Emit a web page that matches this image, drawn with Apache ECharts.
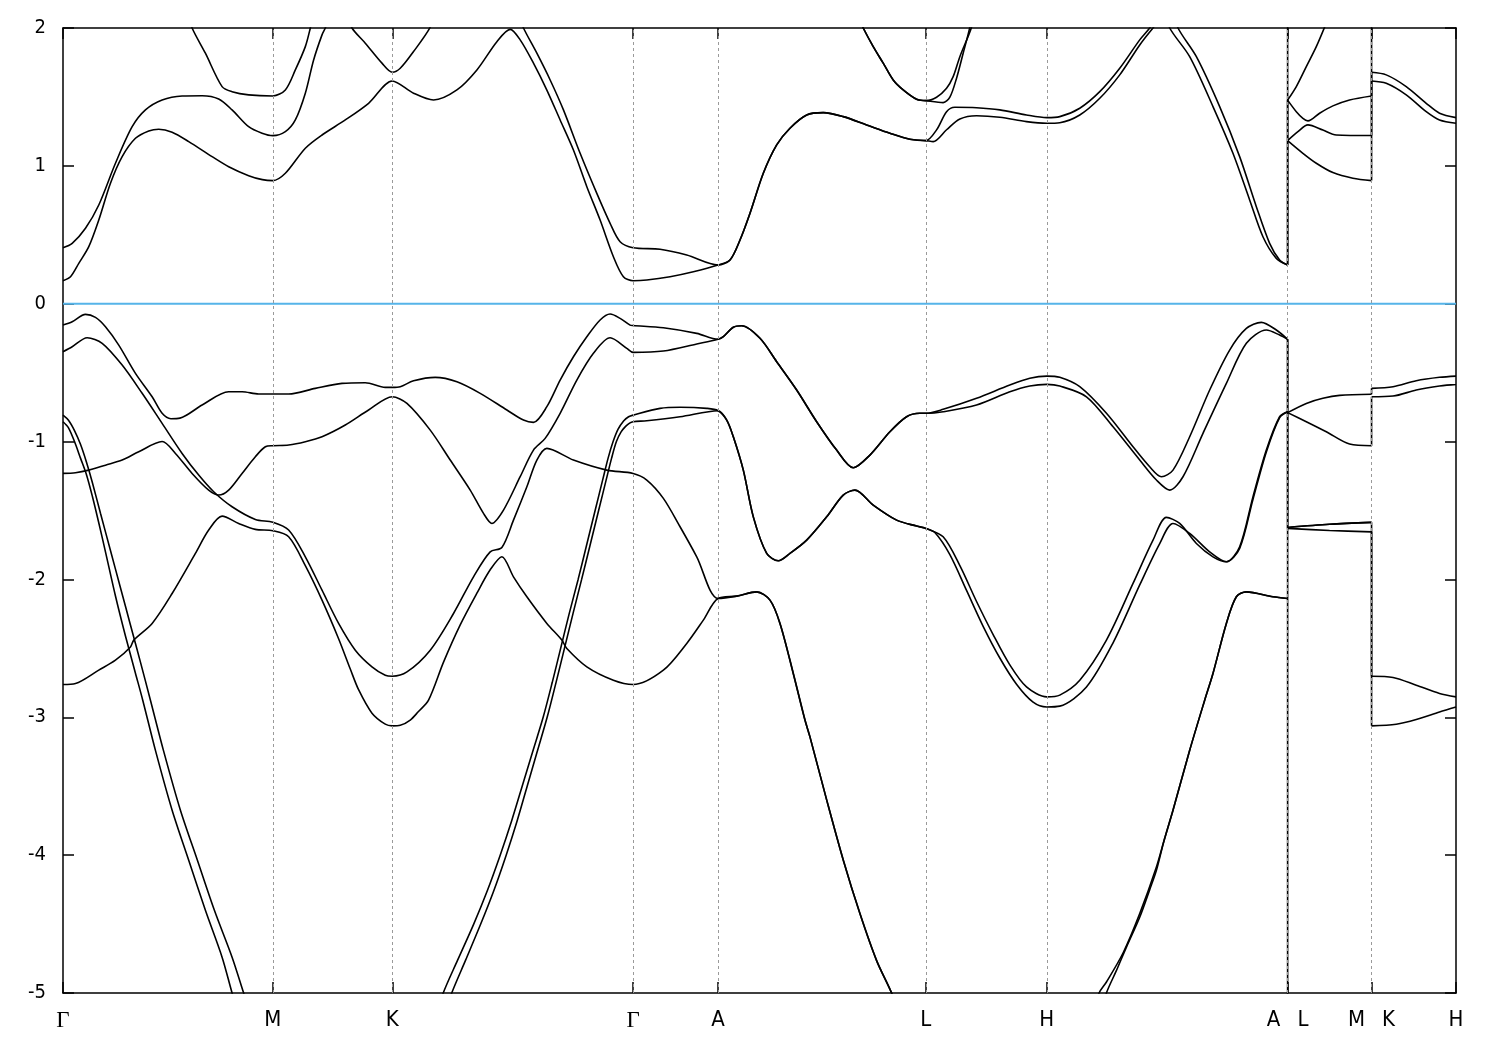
<!DOCTYPE html>
<html><head><meta charset="utf-8">
<script src="https://cdn.jsdelivr.net/npm/echarts@6/dist/echarts.min.js"></script>
<style>html,body{margin:0;padding:0;background:#fff}#c{width:1500px;height:1050px}</style>
</head><body><div id="c"></div>
<script>
// ---- high-symmetry path ----
const kTicks = [0, 210, 329.5, 570.5, 655.5, 863.5, 984.5, 1225.5, 1309.5, 1394];
const tickNames = ['Γ', 'M', 'K', 'Γ', 'A', 'L', 'H', 'A|L', 'M|K', 'H'];
const fermiLine = [[0, 0], [1394, 0]];

// ---- conduction bands (k, E in eV) ----
const cond_GMKG_a = [[0,0.167],[7.5,0.196],[15.8,0.293],[25.8,0.414],[35.8,0.607],[47.5,0.874],[59.2,1.067],[72.5,1.2],[85.8,1.253],[95.8,1.266],[109.2,1.244],[125.8,1.176],[149.2,1.067],[165.8,0.994],[185.8,0.929],[199.5,0.9],[210,0.893],[222.5,0.946],[242.5,1.128],[259.2,1.224],[282.5,1.333],[305.8,1.454],[329.5,1.616],[350.8,1.527],[370.8,1.478],[394.2,1.551],[414.2,1.696],[434.2,1.901],[447.5,1.99],[457.5,1.914],[470.8,1.745],[484.2,1.55],[497.5,1.333],[510.8,1.115],[524.2,0.849],[537.5,0.607],[550.8,0.341],[560.8,0.196],[570.5,0.167]];
const cond_GM_b = [[0,0.406],[9.2,0.438],[22.5,0.547],[35.8,0.716],[52.5,1.019],[69.2,1.284],[82.5,1.406],[99.2,1.478],[119.2,1.507],[139.2,1.509],[155.8,1.485],[169.2,1.406],[185.8,1.284],[199.2,1.237],[210,1.219],[222.5,1.248],[232.5,1.333],[242.5,1.527],[250.8,1.768],[259.2,1.95],[262.5,2.0],[267.5,2.1]];
const cond_M_top = [[125.5,2.1],[129.2,2.0],[142.5,1.817],[159.2,1.575],[169.2,1.538],[185.8,1.515],[210,1.507],[222.5,1.551],[232.5,1.696],[242.5,1.865],[247.5,2.0],[250.5,2.1]];
const cond_K_top = [[284.5,2.1],[289.2,2.0],[302.5,1.89],[319.2,1.745],[329.5,1.679],[337.5,1.708],[350.8,1.829],[367.5,2.006],[370.5,2.1]];
const cond_KG_b = [[455.5,2.1],[460.8,2.0],[474.2,1.817],[487.5,1.623],[500.8,1.406],[517.5,1.091],[534.2,0.8],[547.5,0.583],[557.5,0.45],[570.5,0.406]];
const cond_GA_a = [[570.5,0.167],[584.2,0.172],[607.5,0.196],[630.8,0.232],[655.5,0.281]];
const cond_GA_b = [[570.5,0.406],[597.5,0.395],[624.2,0.353],[655.5,0.281]];
const cond_AL = [[655.5,0.281],[667.5,0.317],[677.5,0.462],[687.5,0.656],[700.8,0.946],[714.2,1.152],[727.5,1.273],[744.2,1.369],[760.8,1.386],[780.8,1.357],[804.2,1.297],[827.5,1.237],[847.5,1.193],[863.5,1.183]];
const cond_LH_a = [[863.5,1.183],[870.8,1.176],[884.2,1.262],[897.5,1.34],[914.2,1.364],[937.5,1.353],[964.2,1.321],[984.5,1.309]];
const cond_LH_b = [[863.5,1.183],[874.2,1.261],[884.2,1.393],[892.5,1.425],[914.2,1.422],[937.5,1.406],[964.2,1.369],[984.5,1.35]];
const cond_HA_a = [[984.5,1.309],[997.5,1.313],[1017.5,1.369],[1037.5,1.49],[1057.5,1.66],[1077.5,1.877],[1090.8,2.0],[1103,2.1]];
const cond_HA_b = [[984.5,1.35],[997.5,1.357],[1017.5,1.418],[1037.5,1.538],[1057.5,1.708],[1077.5,1.914],[1087.5,2.0],[1097,2.1]];
const cond_HA_down_1 = [[1105,2.1],[1107.5,2.0],[1127.5,1.792],[1150.8,1.43],[1170.8,1.091],[1187.5,0.753],[1200.8,0.486],[1214.2,0.329],[1225.5,0.281]];
const cond_HA_down_2 = [[1113,2.1],[1115.8,2.0],[1134.2,1.792],[1157.5,1.43],[1177.5,1.067],[1194.2,0.704],[1207.5,0.438],[1217.5,0.317],[1225.5,0.281]];
const cond_AL_top = [[794.5,2.1],[800.8,2.0],[810.8,1.865],[820.8,1.745],[830.8,1.623],[840.8,1.551],[854.2,1.483],[863.5,1.473]];
const cond_LH_top_a = [[863.5,1.473],[874.2,1.498],[884.2,1.563],[890.8,1.647],[897.5,1.792],[909.2,2.006],[911,2.1]];
const cond_LH_top_b = [[863.5,1.473],[880.8,1.459],[887.5,1.498],[894.2,1.636],[900.8,1.817],[907.5,2.006],[909,2.1]];
const cond_A_above = [[1225.5,2.3]];
const cond_LM_down = [[1225.5,1.183],[1240.8,1.091],[1254.2,1.019],[1270.8,0.951],[1290.8,0.91],[1309.5,0.893]];
const cond_LM_cross_dn = [[1225.5,1.477],[1234.2,1.393],[1240.8,1.345],[1245.8,1.326],[1257.5,1.382],[1270.8,1.435],[1287.5,1.478],[1309.5,1.507]];
const cond_LM_cross_up = [[1225.5,1.183],[1235.8,1.248],[1245.8,1.297],[1260.8,1.26],[1274.2,1.224],[1309.5,1.22]];
const cond_LM_up = [[1225.5,1.477],[1234.2,1.575],[1244.2,1.72],[1254.2,1.865],[1262.5,2.006],[1267.5,2.1]];
const cond_KH_a = [[1309.5,1.616],[1324.2,1.599],[1344.2,1.515],[1364.2,1.393],[1377.5,1.333],[1394,1.309]];
const cond_KH_b = [[1309.5,1.679],[1324.2,1.66],[1344.2,1.575],[1364.2,1.454],[1377.5,1.382],[1394,1.35]];
const cond_KH_above = [[1309.5,2.3],[1394,2.3]];

// ---- valence bands ----
const val_v1 = [[0,-0.155],[9.2,-0.131],[22.5,-0.077],[32.5,-0.099],[42.5,-0.167],[55.8,-0.3],[72.5,-0.505],[89.2,-0.675],[99.2,-0.795],[108,-0.834],[117,-0.83],[139.2,-0.735],[165.8,-0.639],[179.2,-0.639],[195.8,-0.655],[210,-0.655],[225.8,-0.655],[252.5,-0.614],[279.2,-0.578],[302.5,-0.573],[322.5,-0.607],[329.5,-0.607],[337.5,-0.602],[350.8,-0.559],[372.5,-0.534],[394.2,-0.566],[417.5,-0.65],[444.2,-0.771],[460.8,-0.844],[470.8,-0.861],[484.2,-0.747],[497.5,-0.554],[510.8,-0.385],[524.2,-0.24],[537.5,-0.118],[547.5,-0.075],[557.5,-0.106],[567.5,-0.155],[570.5,-0.158]];
const val_v1_GA = [[570.5,-0.158],[600.8,-0.174],[634.2,-0.215],[655.5,-0.258]];
const val_v3 = [[0,-1.231],[12.5,-1.226],[25.8,-1.207],[42.5,-1.171],[59.2,-1.134],[75.8,-1.074],[99.2,-1.0],[112.5,-1.086],[129.2,-1.231],[145.8,-1.352],[155.8,-1.388],[165.8,-1.352],[179.2,-1.231],[192.5,-1.11],[202.5,-1.038],[210,-1.03],[225.8,-1.025],[242.5,-1.001],[259.2,-0.965],[282.5,-0.88],[305.8,-0.771],[329.5,-0.675],[344.2,-0.723],[367.5,-0.917],[387.5,-1.134],[407.5,-1.352],[420.8,-1.521],[429.2,-1.594],[440.8,-1.497],[457.5,-1.255],[470.8,-1.062],[482.5,-0.977],[497.5,-0.795],[514.2,-0.554],[530.8,-0.36],[547.5,-0.247],[564.2,-0.324],[570.5,-0.353]];
const val_v3_GA = [[570.5,-0.353],[600.8,-0.343],[634.2,-0.292],[655.5,-0.258]];
const val_v2 = [[0,-0.348],[9.2,-0.312],[24.2,-0.247],[39.2,-0.287],[59.2,-0.445],[79.2,-0.65],[99.2,-0.868],[119.2,-1.086],[135.8,-1.243],[150.8,-1.364],[169.2,-1.473],[192.5,-1.565],[210,-1.586],[225.8,-1.642],[242.5,-1.836],[259.2,-2.078],[275.8,-2.319],[292.5,-2.513],[309.2,-2.634],[322.5,-2.695],[329.5,-2.702],[344.2,-2.671],[367.5,-2.513],[390.8,-2.247],[410.8,-1.981],[427.5,-1.8],[439.2,-1.768],[450.8,-1.57],[464.2,-1.328],[474.2,-1.134],[484.2,-1.049],[510.8,-1.134],[544.2,-1.207],[570.5,-1.231]];
const val_v2_GA = [[570.5,-1.231],[584.2,-1.279],[600.8,-1.412],[617.5,-1.618],[634.2,-1.836],[655.5,-2.138]];
const val_v4 = [[0,-2.762],[12.5,-2.755],[35.8,-2.658],[52.5,-2.586],[67.5,-2.49],[70.8,-2.44],[89.2,-2.319],[109.2,-2.102],[132.5,-1.811],[145.8,-1.642],[159.2,-1.541],[175.8,-1.594],[192.5,-1.637],[210,-1.647],[225.8,-1.69],[242.5,-1.9],[259.2,-2.15],[275.8,-2.43],[287.5,-2.65],[295.8,-2.8],[309.2,-2.97],[322.5,-3.05],[329.5,-3.062],[337.5,-3.058],[347.5,-3.02],[355.5,-2.96],[365.8,-2.876],[380.8,-2.6],[397.5,-2.33],[414.2,-2.1],[427.5,-1.93],[439.2,-1.835],[450.8,-1.981],[464.2,-2.126],[484.2,-2.319],[499.2,-2.44],[504.2,-2.501],[524.2,-2.634],[550.8,-2.731],[570.5,-2.762]];
const val_v4_GA = [[570.5,-2.762],[600.8,-2.658],[624.2,-2.464],[640.8,-2.295],[655.5,-2.138]];
const val_sA = [[0,-0.808],[5.5,-0.845],[11.5,-0.92],[17.5,-1.02],[23.5,-1.15],[29.5,-1.3],[37.5,-1.52],[47.5,-1.79],[57.5,-2.06],[67.5,-2.33],[77.5,-2.6],[87.5,-2.876],[100.5,-3.24],[117.5,-3.674],[134.5,-4.037],[151.5,-4.4],[169.2,-4.74],[180.8,-5.0],[187.5,-5.15]];
const val_sB = [[0,-0.856],[5.5,-0.9],[11.5,-1.0],[17.5,-1.12],[23.5,-1.24],[29.5,-1.4],[35.5,-1.58],[42.5,-1.8],[52.5,-2.12],[62.5,-2.41],[72.5,-2.68],[79.8,-2.876],[92.5,-3.24],[109.2,-3.674],[125.8,-4.037],[142.5,-4.4],[159.2,-4.74],[169.2,-5.0],[175.5,-5.15]];
const val_sC = [[374.5,-5.15],[380.5,-5.0],[395,-4.76],[411,-4.5],[424.5,-4.26],[437.5,-4.0],[449,-3.75],[459.5,-3.5],[470,-3.25],[480.5,-3.0],[489.5,-2.75],[498,-2.5],[506.5,-2.25],[515.5,-2.0],[524,-1.75],[532.5,-1.5],[540,-1.28],[545.5,-1.12],[550.5,-1.0],[555.5,-0.91],[561,-0.85],[566,-0.82],[570.5,-0.808]];
const val_sD = [[382.5,-5.15],[389,-5.0],[403,-4.76],[418,-4.5],[431,-4.26],[443.5,-4.0],[454.5,-3.75],[464.5,-3.5],[474.5,-3.25],[484.5,-3.0],[493.3,-2.75],[501.8,-2.5],[510.3,-2.25],[519,-2.0],[527.5,-1.75],[536,-1.5],[543.5,-1.28],[549,-1.12],[553.8,-1.0],[558.5,-0.93],[563,-0.89],[567,-0.866],[570.5,-0.856]];
const val_sC_GA = [[570.5,-0.808],[597.5,-0.759],[617.5,-0.751],[644.2,-0.759],[655.5,-0.776]];
const val_sD_GA = [[570.5,-0.856],[584.2,-0.849],[617.5,-0.82],[655.5,-0.776]];
const val_AL1 = [[655.5,-0.258],[660.8,-0.239],[670.8,-0.171],[679.2,-0.16],[697.5,-0.251],[714.2,-0.421],[734.2,-0.626],[754.2,-0.856],[774.2,-1.062],[790.8,-1.19],[807.5,-1.098],[827.5,-0.929],[844.2,-0.82],[857.5,-0.795],[863.5,-0.795]];
const val_AL2 = [[655.5,-0.776],[664.2,-0.844],[670.8,-0.965],[680.8,-1.207],[690.8,-1.546],[704.2,-1.811],[715.8,-1.865],[727.5,-1.811],[744.2,-1.715],[764.2,-1.546],[780.8,-1.388],[792.5,-1.352],[810.8,-1.461],[834.2,-1.57],[854.2,-1.613],[863.5,-1.63]];
const val_AL3 = [[655.5,-2.138],[674.2,-2.121],[694.2,-2.09],[707.5,-2.15],[717.5,-2.319],[730.8,-2.682],[742.5,-3.02],[747.5,-3.142],[764.2,-3.599],[780.8,-4.035],[797.5,-4.424],[814.2,-4.765],[829.2,-5.0],[833.5,-5.1]];
const val_LH1 = [[863.5,-0.795],[880.8,-0.766],[914.2,-0.686],[947.5,-0.59],[967.5,-0.541],[984.5,-0.525]];
const val_LH2 = [[863.5,-0.795],[880.8,-0.784],[914.2,-0.735],[947.5,-0.639],[967.5,-0.597],[984.5,-0.585]];
const val_LH3 = [[863.5,-1.63],[880.8,-1.691],[897.5,-1.9],[914.2,-2.16],[930.8,-2.4],[947.5,-2.62],[964.2,-2.78],[984.5,-2.852]];
const val_LH4 = [[863.5,-1.63],[872.5,-1.66],[887.5,-1.82],[904.2,-2.08],[920.8,-2.34],[937.5,-2.57],[954.2,-2.76],[970.8,-2.89],[984.5,-2.925]];
const val_HA1 = [[984.5,-0.525],[997.5,-0.534],[1017.5,-0.602],[1044.2,-0.795],[1070.8,-1.038],[1087.5,-1.183],[1099.2,-1.255],[1110.8,-1.207],[1127.5,-0.965],[1147.5,-0.626],[1167.5,-0.336],[1184.2,-0.179],[1199.2,-0.135],[1214.2,-0.191],[1225.5,-0.258]];
const val_HA2 = [[984.5,-0.585],[997.5,-0.597],[1024.2,-0.675],[1050.8,-0.893],[1077.5,-1.134],[1094.2,-1.279],[1107.5,-1.352],[1120.8,-1.255],[1140.8,-0.94],[1164.2,-0.578],[1184.2,-0.287],[1204.2,-0.191],[1217.5,-0.227],[1225.5,-0.258]];
const val_HA3 = [[984.5,-2.852],[997.5,-2.839],[1017.5,-2.731],[1044.2,-2.44],[1070.8,-2.029],[1090.8,-1.715],[1104.2,-1.55],[1117.5,-1.594],[1134.2,-1.739],[1150.8,-1.836],[1164.2,-1.872],[1177.5,-1.763],[1190.8,-1.401],[1204.2,-1.062],[1217.5,-0.82],[1225.5,-0.784]];
const val_HA4 = [[984.5,-2.925],[997.5,-2.919],[1024.2,-2.78],[1050.8,-2.46],[1077.5,-2.04],[1097.5,-1.74],[1110.8,-1.594],[1127.5,-1.666],[1147.5,-1.8],[1164.2,-1.872],[1177.5,-1.775],[1190.8,-1.42],[1204.2,-1.075],[1217.5,-0.826],[1225.5,-0.784]];
const val_HA5_low = [[1033.5,-5.1],[1036.8,-5.0],[1044.2,-4.92],[1060.8,-4.71],[1077.5,-4.424],[1094.2,-4.086]];
const val_HA6_low = [[1041.5,-5.1],[1044.2,-5.0],[1054,-4.84],[1064.2,-4.667],[1077.5,-4.45],[1087.5,-4.25],[1094.2,-4.11]];
const val_HA_deep = [[1102,-3.89],[1110.8,-3.674],[1127.5,-3.239],[1142.5,-2.876],[1150.8,-2.682],[1164.2,-2.319],[1174.2,-2.126],[1184.2,-2.09],[1210.8,-2.126],[1225.5,-2.138]];
const val_L_below = [[1225.5,-5.3]];
const val_LM1 = [[1225.5,-0.79],[1244.2,-0.723],[1260.8,-0.686],[1277.5,-0.665],[1309.5,-0.657]];
const val_LM2 = [[1225.5,-0.79],[1244.2,-0.856],[1264.2,-0.929],[1287.5,-1.018],[1309.5,-1.03]];
const val_LM3 = [[1225.5,-1.623],[1267.5,-1.6],[1309.5,-1.586]];
const val_LM4 = [[1225.5,-1.63],[1267.5,-1.645],[1309.5,-1.655]];
const val_KH1 = [[1309.5,-0.614],[1331,-0.602],[1354.2,-0.559],[1377.5,-0.534],[1394,-0.525]];
const val_KH2 = [[1309.5,-0.675],[1331,-0.67],[1354.2,-0.626],[1377.5,-0.597],[1394,-0.585]];
const val_KH3 = [[1309.5,-2.702],[1331,-2.711],[1354.2,-2.767],[1377.5,-2.827],[1394,-2.852]];
const val_KH4 = [[1309.5,-3.062],[1334.2,-3.05],[1354.2,-3.016],[1377.5,-2.961],[1394,-2.925]];

// ---- bands as chains of path segments ----
const bands = [
  [cond_GMKG_a, cond_GA_a, cond_AL, cond_LH_a, cond_HA_a, cond_HA_down_2, cond_LM_down, cond_KH_a],
  [cond_GM_b],
  [cond_KG_b, cond_GA_b, cond_AL, cond_LH_b, cond_HA_b, cond_HA_down_1, cond_LM_cross_dn, cond_KH_above],
  [cond_M_top], [cond_K_top],
  [cond_AL_top, cond_LH_top_a], [cond_AL_top, cond_LH_top_b],
  [cond_A_above, cond_LM_cross_up, cond_KH_b],
  [cond_LM_up],
  [val_v1, val_v1_GA, val_AL1, val_LH1, val_HA1, val_LM1, val_KH1],
  [val_v3, val_v3_GA, val_AL1, val_LH2, val_HA2, val_LM2, val_KH2],
  [val_v2, val_v2_GA, val_AL3],
  [val_v4, val_v4_GA, val_AL3],
  [val_sA], [val_sB],
  [val_sC, val_sC_GA, val_AL2, val_LH3, val_HA3, val_LM3, val_KH3],
  [val_sD, val_sD_GA, val_AL2, val_LH4, val_HA4, val_LM4, val_KH4],
  [val_HA5_low, val_HA_deep, val_LM3],
  [val_HA6_low, val_HA_deep, val_L_below]
];

const SANS = "'Liberation Sans Narrow','DejaVu Sans Condensed','Liberation Sans',sans-serif";
const series = [];
function lineSeries(data, smooth) {
  return { type: 'line', data: data, smooth: smooth ? 0.3 : false, symbol: 'none', showSymbol: false,
    silent: true, clip: true, z: 3, lineStyle: { color: '#000', width: 1.6 } };
}
bands.forEach(function (parts) {
  const pts = [];
  parts.forEach(function (seg) {
    seg.forEach(function (p) {
      const last = pts[pts.length - 1];
      if (!last || last[0] !== p[0] || last[1] !== p[1]) pts.push(p);
    });
  });
  let run = [pts[0]];
  for (let i = 1; i < pts.length; i++) {
    const p = pts[i], q = pts[i - 1];
    if (p[0] === q[0]) {
      if (run.length > 1) series.push(lineSeries(run, true));
      series.push(lineSeries([q, p], false));
      run = [p];
    } else run.push(p);
  }
  if (run.length > 1) series.push(lineSeries(run, true));
});
series.unshift({
  type: 'line', data: fermiLine, symbol: 'none', silent: true, z: 2,
  lineStyle: { color: '#56b4e9', width: 2 },
  markLine: {
    silent: true, symbol: ['none', 'none'], animation: false,
    label: { show: false },
    lineStyle: { color: '#9a9a9a', type: [3, 3], width: 1 },
    data: kTicks.slice(1, -1).map(function (k) { return { xAxis: k }; })
  }
});

function tickLabel(v) {
  const i = kTicks.indexOf(v);
  if (i < 0) return '';
  const n = tickNames[i];
  if (n === 'Γ') return '{g|Γ}';
  if (n.indexOf('|') > 0) { const s = n.split('|'); return '{a|' + s[0] + '}{b|' + s[1] + '}'; }
  return '{b|' + n + '}';
}
const axisLineStyle = { color: '#000', width: 1.5 };
const chart = echarts.init(document.getElementById('c'), null, { renderer: 'canvas' });
chart.setOption({
  animation: false,
  backgroundColor: '#fff',
  grid: { left: 63, right: 44, top: 28, bottom: 57 },
  xAxis: [{
    type: 'value', min: 0, max: 1394, position: 'bottom',
    axisLine: { show: true, onZero: false, lineStyle: axisLineStyle },
    axisTick: { show: true, inside: true, length: 11, customValues: kTicks, lineStyle: axisLineStyle },
    axisLabel: { show: true, customValues: kTicks, formatter: tickLabel, margin: 16, hideOverlap: false,
      rich: {
        g: { fontFamily: "'Liberation Serif','DejaVu Serif',serif", fontSize: 23, color: '#000' },
        a: { fontFamily: SANS, fontSize: 22, color: '#000', padding: [0, 17, 0, 0] },
        b: { fontFamily: SANS, fontSize: 22, color: '#000' }
      } },
    splitLine: { show: false }
  }, {
    type: 'value', min: 0, max: 1394, position: 'top',
    axisLine: { show: true, onZero: false, lineStyle: axisLineStyle },
    axisTick: { show: true, inside: true, length: 11, customValues: kTicks, lineStyle: axisLineStyle },
    axisLabel: { show: false }, splitLine: { show: false }
  }],
  yAxis: [{
    type: 'value', min: -5, max: 2, interval: 1, position: 'left',
    axisLine: { show: true, onZero: false, lineStyle: axisLineStyle },
    axisTick: { show: true, inside: true, length: 11, lineStyle: axisLineStyle },
    axisLabel: { show: true, color: '#000', fontFamily: SANS, fontSize: 20, margin: 17 },
    splitLine: { show: false }
  }, {
    type: 'value', min: -5, max: 2, interval: 1, position: 'right',
    axisLine: { show: true, onZero: false, lineStyle: axisLineStyle },
    axisTick: { show: true, inside: true, length: 11, lineStyle: axisLineStyle },
    axisLabel: { show: false }, splitLine: { show: false }
  }],
  series: series
});
</script></body></html>
